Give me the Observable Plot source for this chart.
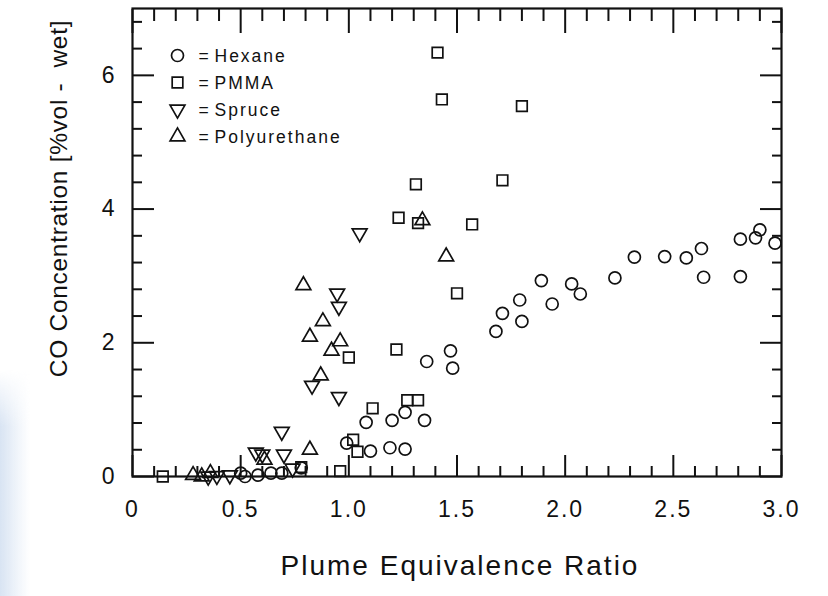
<!DOCTYPE html>
<html>
<head>
<meta charset="utf-8">
<script src="https://cdn.jsdelivr.net/npm/d3@7"></script>
<script src="https://cdn.jsdelivr.net/npm/@observablehq/plot@0.6"></script>
<style>
  html, body { margin: 0; padding: 0; background: #fff; }
  #wrap { position: relative; width: 828px; height: 596px; overflow: hidden; background: #fff; }
  #smear { position: absolute; left: 0; top: 370px; width: 30px; height: 226px; z-index: 2; pointer-events: none;
    background: linear-gradient(to right, rgba(214,226,242,0.95), rgba(232,239,248,0.7) 55%, rgba(255,255,255,0));
    -webkit-mask-image: linear-gradient(to bottom, rgba(0,0,0,0), #000 25%, #000);
    mask-image: linear-gradient(to bottom, rgba(0,0,0,0), #000 25%, #000); }
  svg text { letter-spacing: 2px; }
  svg g.ylbl text { letter-spacing: 0.7px; white-space: pre; }
</style>
</head>
<body>
<div id="wrap"><div id="smear"></div></div>
<script>
// ---- data ----
const hexaneX = [1.36,1.47,1.48,1.68,1.71,1.79,1.80,1.89,1.94,2.03,2.07,2.23,2.32,2.46,2.56,2.63,2.64,2.81,2.81,2.88,2.90,2.97,
                 1.08,1.20,1.26,1.35,0.99,1.10,1.19,1.26,
                 0.50,0.52,0.58,0.64,0.69,0.78];
const hexaneY = [1.72,1.88,1.62,2.17,2.44,2.64,2.32,2.93,2.58,2.88,2.73,2.97,3.28,3.29,3.27,3.41,2.98,3.55,2.99,3.57,3.69,3.49,
                 0.81,0.84,0.96,0.84,0.50,0.38,0.43,0.41,
                 0.05,0.00,0.02,0.05,0.05,0.13];

const pmmaX = [1.41,1.43,1.80,1.31,1.71,1.23,1.32,1.57,1.50,1.22,1.00,1.11,1.27,1.32,1.02,1.04,0.96,0.78,0.14];
const pmmaY = [6.34,5.64,5.54,4.37,4.43,3.87,3.79,3.77,2.74,1.90,1.78,1.02,1.14,1.14,0.55,0.37,0.08,0.14,0.00];

const spruceX = [1.05,0.946,0.954,0.83,0.954,0.69,0.57,0.60,0.70,0.74,0.45,0.39,0.35];
const spruceY = [3.64,2.74,2.54,1.36,1.19,0.67,0.36,0.33,0.33,0.12,0.02,0.01,0.00];

const polyX = [0.79,0.88,0.82,0.96,0.92,0.87,1.34,1.45,0.82,0.61,0.36,0.28,0.32];
const polyY = [2.86,2.32,2.09,2.02,1.88,1.51,3.83,3.29,0.40,0.25,0.05,0.02,0.00];

const xMajor = [0, 0.5, 1.0, 1.5, 2.0, 2.5, 3.0];
const xTickLabels = ["0", "0.5", "1.0", "1.5", "2.0", "2.5", "3.0"];
const yMajor = [0, 2, 4, 6];
const yTickLabels = ["0", "2", "4", "6"];
const xMinor = d3.range(1, 30).map(i => i / 10).filter(v => Math.abs(v * 2 - Math.round(v * 2)) > 1e-6);
const yMinor = d3.range(1, 18).map(i => +(i * 0.4).toFixed(1)).filter(v => v % 2 !== 0 && v < 7);

const legendNames = ["Hexane", "PMMA", "Spruce", "Polyurethane"];
const legendSymbols = ["circle", "square", "triangle", "triangle"];
const legendRotate = [0, 0, 180, 0];

const xLabel = "Plume Equivalence Ratio";
const yLabel = "CO Concentration [%vol -  wet]";

// ---- build ----
const toPts = (xs, ys) => xs.map((x, i) => ({x, y: ys[i]}));
const hexane = toPts(hexaneX, hexaneY);
const pmma = toPts(pmmaX, pmmaY);
const spruce = toPts(spruceX, spruceY);
const poly = toPts(polyX, polyY);

const font = "'Liberation Sans', Arial, Helvetica, sans-serif";
const dotStyle = {fill: "none", stroke: "#111", strokeWidth: 1.7};
const tickStyle = {stroke: "#111", strokeWidth: 2, label: null};

const legendMarks = legendNames.flatMap((name, i) => [
  Plot.dot([name], {frameAnchor: "top-left", dx: 45, dy: 47 + i * 27, symbol: legendSymbols[i],
    r: legendSymbols[i] === "triangle" ? 5.5 : 6, rotate: legendRotate[i], ...dotStyle}),
  Plot.text(["="], {frameAnchor: "top-left", dx: 66, dy: 48 + i * 27, text: d => d,
    textAnchor: "start", lineAnchor: "middle", fontSize: 17.5, fill: "#111"}),
  Plot.text([name], {frameAnchor: "top-left", dx: 82, dy: 48 + i * 27, text: d => d,
    textAnchor: "start", lineAnchor: "middle", fontSize: 17.5, fill: "#111"})
]);

const chart = Plot.plot({
  width: 828,
  height: 596,
  marginLeft: 132,
  marginRight: 47,
  marginTop: 8,
  marginBottom: 120,
  style: {fontFamily: font, background: "transparent", color: "#111"},
  x: {domain: [0, 3]},
  y: {domain: [0, 7]},
  marks: [
    // inward ticks on all four sides
    Plot.axisX(xMinor, {anchor: "bottom", tickSize: -10, tickFormat: () => "", ...tickStyle}),
    Plot.axisX(xMajor, {anchor: "bottom", tickSize: -21, tickPadding: 45, fontSize: 23,
      tickFormat: (d, i) => xTickLabels[i], ...tickStyle}),
    Plot.axisX(xMinor, {anchor: "top", tickSize: -12, tickFormat: () => "", ...tickStyle}),
    Plot.axisX(xMajor, {anchor: "top", tickSize: -24, tickFormat: () => "", ...tickStyle}),
    Plot.axisY(yMinor, {anchor: "left", tickSize: -10, tickFormat: () => "", ...tickStyle}),
    Plot.axisY(yMajor, {anchor: "left", tickSize: -22, tickPadding: 38, fontSize: 23,
      tickFormat: (d, i) => yTickLabels[i], ...tickStyle}),
    Plot.axisY(yMinor, {anchor: "right", tickSize: -10, tickFormat: () => "", ...tickStyle}),
    Plot.axisY(yMajor, {anchor: "right", tickSize: -22, tickFormat: () => "", ...tickStyle}),
    Plot.frame({stroke: "#111", strokeWidth: 2.2}),
    // data
    Plot.dot(hexane, {x: "x", y: "y", symbol: "circle", r: 6, ...dotStyle}),
    Plot.dot(pmma, {x: "x", y: "y", symbol: "square", r: 6, ...dotStyle}),
    Plot.dot(spruce, {x: "x", y: "y", symbol: "triangle", r: 5.5, rotate: 180, ...dotStyle}),
    Plot.dot(poly, {x: "x", y: "y", symbol: "triangle", r: 5.5, ...dotStyle}),
    // legend
    ...legendMarks,
    // axis titles
    Plot.text([xLabel], {frameAnchor: "bottom", dx: 3, dy: 90, text: d => d, fontSize: 28,
      textAnchor: "middle", lineAnchor: "middle", fill: "#111"}),
    Plot.text([yLabel], {frameAnchor: "left", dx: -73, dy: -44, rotate: -90, text: d => d, fontSize: 24.5,
      textAnchor: "middle", lineAnchor: "middle", fill: "#111", className: "ylbl"})
  ]
});

document.getElementById("wrap").appendChild(chart);
</script>
</body>
</html>
